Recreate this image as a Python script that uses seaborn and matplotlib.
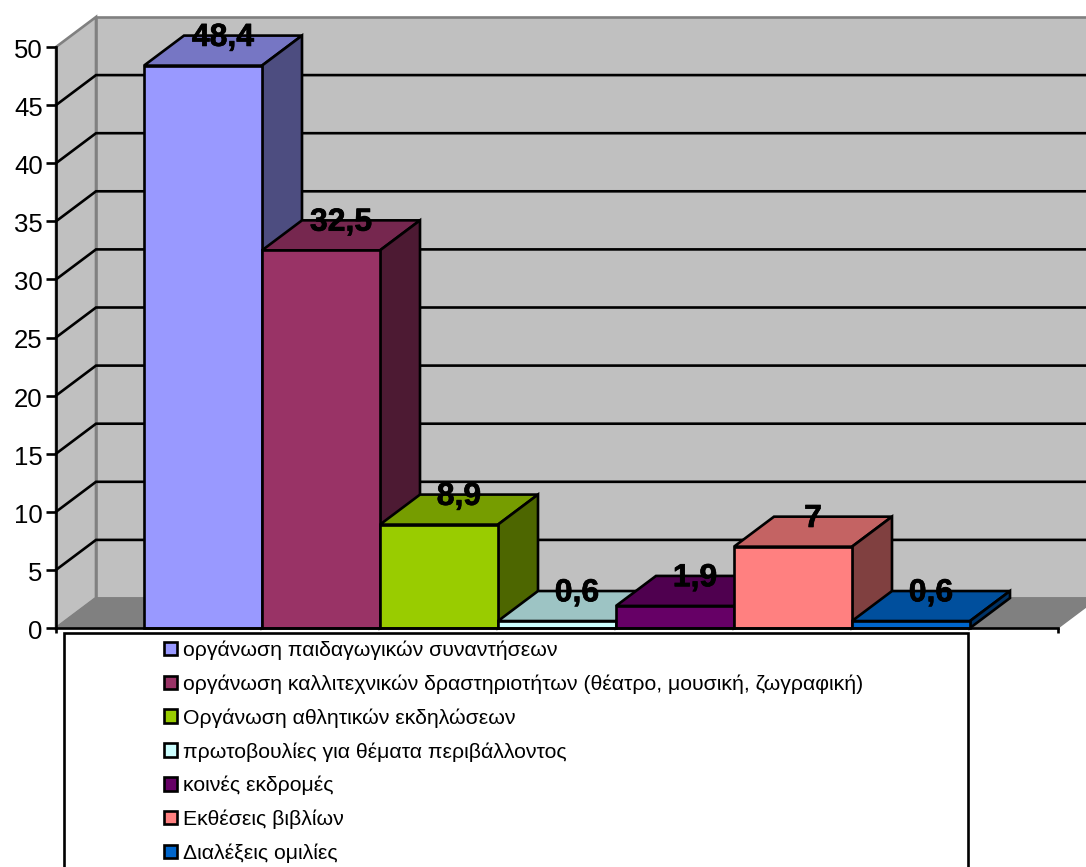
import matplotlib
matplotlib.use("Agg")
import matplotlib.pyplot as plt
from matplotlib.patches import Patch, Polygon, Rectangle
from matplotlib.colors import to_rgb
from matplotlib.transforms import ScaledTranslation
import matplotlib.patheffects as pe
import seaborn as sns

categories = [
    "οργάνωση παιδαγωγικών συναντήσεων",
    "οργάνωση καλλιτεχνικών δραστηριοτήτων (θέατρο, μουσική, ζωγραφική)",
    "Οργάνωση αθλητικών εκδηλώσεων",
    "πρωτοβουλίες για θέματα περιβάλλοντος",
    "κοινές εκδρομές",
    "Εκθέσεις βιβλίων",
    "Διαλέξεις ομιλίες",
]
values = [48.4, 32.5, 8.9, 0.6, 1.9, 7, 0.6]
colors = ["#9999FF", "#993366", "#99CC00", "#CCFFFF", "#660066", "#FF8080", "#0066CC"]
y_ticks = [0, 5, 10, 15, 20, 25, 30, 35, 40, 45, 50]

W, H = 1086, 867
DEPTH_X = 40 / 118      # receding offset in category units
DEPTH_Y = 30 / 11.62    # receding offset in value units
EDGE = 1.9
LABEL_DROP = 0.2        # value labels sit slightly below the rear edge

sns.set_theme(style="white")
plt.rcParams["font.family"] = ["Liberation Sans", "DejaVu Sans"]

fig = plt.figure(figsize=(W / 100, H / 100), dpi=100, facecolor="white")
ax = fig.add_axes([56 / W, (H - 628) / H, 1002 / W, 581 / H])

sns.barplot(x=categories, y=values, hue=categories, palette=colors, hue_order=categories,
            order=categories, width=1, saturation=1, edgecolor="black", linewidth=EDGE,
            legend=False, ax=ax)
fronts = list(ax.patches)

x0, x1 = -0.5 - 88 / 118, 6.5 + 88 / 118
ax.set_xlim(x0, x1)
ax.set_ylim(0, 50)
ax.set_xlabel("")
ax.set_ylabel("")


def shade(color, factor):
    return tuple(c * factor for c in to_rgb(color))


def add_poly(points, face, edge, lw, z):
    ax.add_patch(Polygon(points, closed=True, facecolor=face, edgecolor=edge, linewidth=lw,
                         joinstyle="miter", clip_on=False, zorder=z))


# Chart box: side wall, back wall and floor
top = y_ticks[-1]
add_poly([(x0, 0), (x0 + DEPTH_X, DEPTH_Y), (x0 + DEPTH_X, top + DEPTH_Y), (x0, top)],
         "#C0C0C0", "#808080", 1.9, 0.5)
add_poly([(x0 + DEPTH_X, DEPTH_Y), (x1 + DEPTH_X, DEPTH_Y), (x1 + DEPTH_X, top + DEPTH_Y),
          (x0 + DEPTH_X, top + DEPTH_Y)], "#C0C0C0", "#808080", 1.9, 0.6)
add_poly([(x0, 0), (x1, 0), (x1 + DEPTH_X, DEPTH_Y), (x0 + DEPTH_X, DEPTH_Y)],
         "#808080", "#808080", 1.0, 0.7)

# Gridlines bend from the side wall onto the back wall
for t in y_ticks[1:-1]:
    ax.plot([x0, x0 + DEPTH_X, x1 + DEPTH_X], [t, t + DEPTH_Y, t + DEPTH_Y], color="black",
            lw=EDGE, clip_on=False, zorder=0.9, solid_joinstyle="miter")

# Each column: top and side faces behind its front, later columns overlap earlier ones
for i, (bar, color, value) in enumerate(zip(fronts, colors, values)):
    left, right = bar.get_x(), bar.get_x() + bar.get_width()
    h = bar.get_height()
    z = 2 + i
    add_poly([(left, h), (right, h), (right + DEPTH_X, h + DEPTH_Y), (left + DEPTH_X, h + DEPTH_Y)],
             shade(color, 0.77), "black", EDGE, z)
    add_poly([(right, 0), (right + DEPTH_X, DEPTH_Y), (right + DEPTH_X, h + DEPTH_Y), (right, h)],
             shade(color, 0.5), "black", EDGE, z)
    bar.set_zorder(z + 0.1)
    bar.set_clip_on(False)

# Value labels sit on the rear edge of each column's top face
for bar, value in zip(fronts, values):
    cx = bar.get_x() + bar.get_width() / 2 + DEPTH_X / 2
    label = ax.text(cx, bar.get_height() + DEPTH_Y - LABEL_DROP, f"{value:g}".replace(".", ","),
                    ha="center", va="center", fontsize=23, fontweight="bold", color="black",
                    zorder=20, clip_on=False)
    label.set_path_effects([pe.withStroke(linewidth=0.5, foreground="black")])

ax.set_yticks(y_ticks)
ax.set_xticks([x0, x1])
ax.set_xticklabels([])
ax.tick_params(axis="y", left=True, length=7.2, width=EDGE, color="black", labelsize=18.5,
               labelcolor="black", pad=2.4)
ax.tick_params(axis="x", bottom=True, length=3.5, width=EDGE, color="black")
# Nudge the value-axis labels down so they centre on their ticks
nudge = ScaledTranslation(0, -1.5 / 100, fig.dpi_scale_trans)
for tick_label in ax.get_yticklabels():
    tick_label.set_transform(tick_label.get_transform() + nudge)
for name, spine in ax.spines.items():
    spine.set_visible(name in ("left", "bottom"))
    spine.set_color("black")
    spine.set_linewidth(EDGE)
    spine.set_zorder(15)
ax.patch.set_visible(False)

# Legend panel runs off the lower edge of the figure
fig.add_artist(Rectangle((64 / W, -10 / H), 904 / W, (H + 10 - 633) / H, transform=fig.transFigure,
                         facecolor="white", edgecolor="black", linewidth=EDGE, zorder=30))
handles = [Patch(facecolor=c, edgecolor="black", linewidth=EDGE) for c in colors]
leg = fig.legend(handles, categories, loc="upper left", bbox_to_anchor=(164 / W, (H - 640.5) / H),
                 frameon=False, fontsize=15.3, handlelength=0.6, handleheight=0.6,
                 handletextpad=0.3, labelspacing=0.675, borderpad=0, borderaxespad=0)
leg.set_zorder(31)
for text in leg.get_texts():
    text.set_color("black")

fig.savefig("out.png", dpi=100, facecolor="white")
